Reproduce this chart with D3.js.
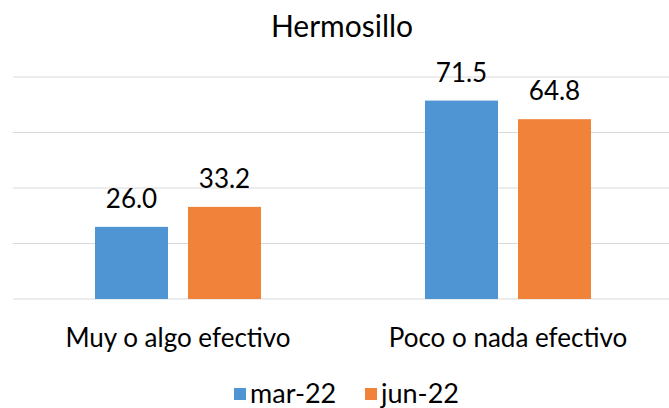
<!DOCTYPE html>
<html>
<head>
<meta charset="utf-8">
<script src="https://d3js.org/d3.v7.min.js"></script>
<style>
  body { margin: 0; background: #fff; }
  text { font-family: Lato, "Open Sans", sans-serif; fill: #000; }
</style>
</head>
<body>
<div id="chart"></div>
<script>
// data
var categories = ["Muy o algo efectivo", "Poco o nada efectivo"];
var seriesNames = ["mar-22", "jun-22"];
var mar22 = [26.0, 71.5];
var jun22 = [33.2, 64.8];
var yTicks = [0, 20, 40, 60, 80];
var colors = ["#4F95D3", "#F0823A"];

var W = 669, H = 408;
var margin = {top: 77, right: -4, bottom: 109, left: 13},
    width = W - margin.left - margin.right,
    height = H - margin.top - margin.bottom;

var svg = d3.select("#chart").append("svg")
    .attr("width", W).attr("height", H);

var g = svg.append("g")
    .attr("transform", "translate(" + margin.left + "," + margin.top + ")");

var x0 = d3.scaleBand().domain(categories).range([0, width]).paddingInner(0).paddingOuter(0);
var x1 = d3.scaleBand().domain(seriesNames).range([x0.bandwidth()/2 - 83, x0.bandwidth()/2 + 83]).paddingInner(0.215);
var y = d3.scaleLinear().domain([0, 80]).range([height, 0]);

// gridlines
g.append("g").selectAll("line")
  .data(yTicks)
  .enter().append("line")
    .attr("x1", 0).attr("x2", width)
    .attr("y1", function(d) { return y(d); })
    .attr("y2", function(d) { return y(d); })
    .attr("stroke", "#d9d9d9")
    .attr("stroke-width", 1.2);

var rows = categories.map(function(c, i) {
  return {cat: c, vals: [mar22[i], jun22[i]]};
});

var groups = g.selectAll(".grp")
  .data(rows)
  .enter().append("g")
    .attr("transform", function(d) { return "translate(" + x0(d.cat) + ",0)"; });

groups.selectAll("rect")
  .data(function(d) { return d.vals.map(function(v, j) { return {s: seriesNames[j], v: v, j: j}; }); })
  .enter().append("rect")
    .attr("x", function(d) { return x1(d.s); })
    .attr("width", x1.bandwidth())
    .attr("y", function(d) { return y(d.v); })
    .attr("height", function(d) { return height - y(d.v); })
    .attr("fill", function(d) { return colors[d.j]; });

groups.selectAll(".val")
  .data(function(d) { return d.vals.map(function(v, j) { return {s: seriesNames[j], v: v}; }); })
  .enter().append("text")
    .attr("x", function(d) { return x1(d.s) + x1.bandwidth()/2; })
    .attr("y", function(d) { return y(d.v) - 19; })
    .attr("text-anchor", "middle")
    .style("font-size", "26px")
    .text(function(d) { return d3.format(".1f")(d.v); });

// category labels
g.append("g").selectAll("text")
  .data(categories)
  .enter().append("text")
    .attr("x", function(d) { return x0(d) + x0.bandwidth()/2; })
    .attr("y", height + 48)
    .attr("text-anchor", "middle")
    .style("font-size", "26px")
    .text(function(d) { return d; });

// title
svg.append("text")
  .attr("x", 342).attr("y", 37)
  .attr("text-anchor", "middle")
  .style("font-size", "30px")
  .text("Hermosillo");

// legend
var legendX = [234, 365];
var leg = svg.append("g").selectAll("g")
  .data(seriesNames)
  .enter().append("g")
    .attr("transform", function(d, i) { return "translate(" + legendX[i] + ",388)"; });
leg.append("rect")
  .attr("width", 12).attr("height", 12)
  .attr("fill", function(d, i) { return colors[i]; });
leg.append("text")
  .attr("x", 16).attr("y", 15)
  .style("font-size", "27px")
  .text(function(d) { return d; });
</script>
</body>
</html>
